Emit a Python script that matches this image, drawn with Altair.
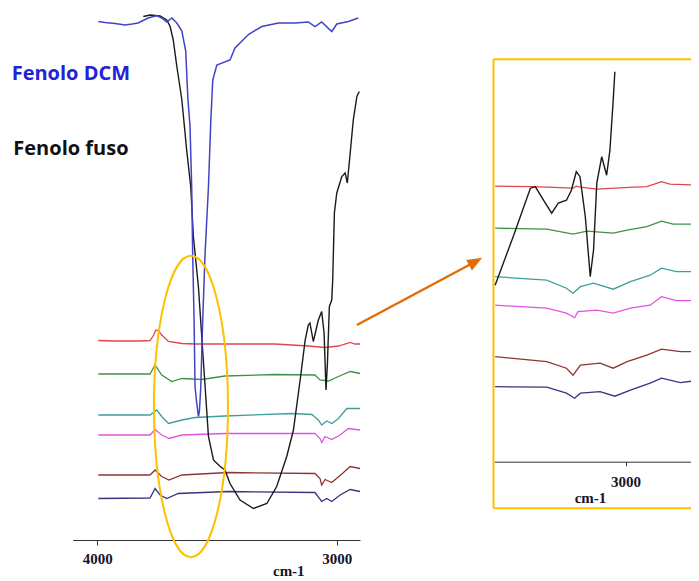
import altair as alt
import pandas as pd

# ---------------- main panel spectra (wavenumber cm-1, transmittance a.u.) ----------------
dcm_wn = [3996, 3968, 3926, 3884, 3855, 3830, 3788, 3752, 3731, 3710, 3689, 3668, 3647, 3631,
          3622, 3613, 3606, 3602, 3596, 3592, 3585, 3578, 3574, 3568, 3560, 3550, 3536, 3526,
          3518, 3501, 3446, 3425, 3369, 3313, 3244, 3174, 3119, 3091, 3063, 3021, 3000, 2952, 2910]
dcm_t = [103.7, 103.5, 103.3, 103.0, 103.2, 103.4, 104.4, 104.9, 104.4, 103.6, 104.4, 103.4, 101.8, 97.8,
         88.4, 82.7, 70.7, 57.4, 44.0, 30.6, 27.4, 24.7, 25.6, 30.6, 44.0, 57.4, 70.6, 84.0,
         92.0, 95.0, 96.0, 98.4, 101.1, 102.7, 103.4, 103.4, 103.6, 102.7, 103.6, 101.7, 103.2, 103.7, 104.4]

fuso_wn = [3808, 3780, 3738, 3710, 3696, 3683, 3668, 3647, 3627, 3610, 3599, 3578, 3564, 3550, 3536,
           3515, 3487, 3467, 3446, 3404, 3348, 3292, 3251, 3209, 3181, 3153, 3132, 3119, 3112, 3098,
           3077, 3063, 3053, 3045, 3039, 3031, 3021, 3017, 3010, 3000, 2979, 2965, 2956, 2944, 2931,
           2916, 2906]
fuso_t = [104.7, 105.0, 104.8, 104.0, 102.7, 100.0, 94.7, 88.0, 78.0, 70.7, 60.7, 50.7, 40.7, 30.7, 20.7,
          16.0, 14.7, 14.0, 11.3, 8.0, 6.3, 7.3, 10.7, 16.7, 22.0, 32.0, 40.0, 43.0, 43.4, 39.7,
          44.0, 45.7, 41.4, 30.0, 35.4, 46.7, 48.0, 52.0, 65.4, 69.4, 72.7, 73.4, 71.4, 77.4, 84.0,
          88.7, 89.7]

red_wn = [3996, 3926, 3822, 3780, 3767, 3756, 3744, 3731, 3703, 3647, 3592, 3362, 3258, 3119, 3049, 2993, 2944, 2924, 2903]
red_t = [39.9, 39.8, 39.8, 39.9, 40.8, 42.0, 41.8, 41.0, 39.7, 39.3, 39.2, 39.2, 39.2, 38.8, 38.5, 38.8, 39.5, 39.2, 39.2]

green_wn = [3996, 3780, 3759, 3731, 3689, 3647, 3564, 3467, 3258, 3091, 3070, 3035, 2993, 2944, 2903]
green_t = [33.2, 33.2, 35.0, 33.0, 31.7, 32.3, 32.1, 32.8, 33.1, 33.0, 32.0, 31.8, 32.7, 33.7, 33.3]

teal_wn = [3996, 3780, 3752, 3731, 3703, 3647, 3592, 3467, 3188, 3104, 3077, 3063, 3042, 3021, 2993, 2958, 2903]
teal_t = [25.0, 25.0, 26.0, 24.7, 23.3, 24.0, 24.5, 24.8, 25.3, 25.1, 24.0, 23.0, 23.8, 23.3, 24.3, 26.3, 26.3]

magenta_wn = [3996, 3780, 3759, 3731, 3701, 3647, 3467, 3091, 3070, 3063, 3049, 3021, 2986, 2952, 2903]
magenta_t = [21.0, 21.0, 22.1, 21.0, 20.3, 21.0, 21.3, 21.3, 20.3, 19.5, 20.7, 20.1, 21.0, 22.3, 22.0]

brown_wn = [3996, 3780, 3759, 3731, 3701, 3647, 3453, 3091, 3070, 3063, 3049, 3021, 2979, 2944, 2903]
brown_t = [13.0, 13.0, 14.0, 12.7, 12.0, 13.0, 13.5, 13.3, 12.3, 11.0, 12.1, 11.5, 13.2, 14.7, 14.3]

navy_wn = [3996, 3780, 3759, 3738, 3710, 3662, 3453, 3091, 3063, 3042, 3021, 2986, 2944, 2903]
navy_t = [8.3, 8.4, 10.3, 9.0, 8.3, 9.3, 9.7, 9.5, 7.7, 8.3, 7.7, 9.0, 10.1, 9.7]

# ---------------- inset (zoom 3160-2910 cm-1) ----------------
i_fuso_wn = [3159, 3137, 3116, 3110, 3100, 3090, 3082, 3072, 3066, 3060, 3055.5, 3049, 3043, 3039,
             3035, 3029, 3023, 3019, 3015, 3013]
i_fuso_t = [35.3, 45.0, 54.7, 55.0, 52.3, 49.7, 51.7, 52.3, 54.3, 58.0, 57.0, 49.0, 37.0, 42.3,
            55.7, 61.0, 57.3, 62.3, 72.3, 78.0]

i_red_wn = [3159, 3112, 3064, 3060, 3055, 3035, 2990, 2974, 2956, 2946, 2911]
i_red_t = [55.1, 55.0, 54.7, 55.1, 54.9, 54.5, 54.9, 55.0, 56.0, 55.5, 55.3]

i_green_wn = [3159, 3096, 3064, 3047, 3015, 2998, 2974, 2956, 2942, 2911]
i_green_t = [46.7, 46.5, 45.5, 46.1, 45.7, 46.3, 47.0, 48.1, 47.5, 47.5]

i_teal_wn = [3159, 3096, 3072, 3064, 3055, 3039, 3015, 2994, 2970, 2956, 2938, 2911]
i_teal_t = [37.0, 36.3, 34.7, 33.7, 35.0, 35.7, 34.5, 36.0, 37.3, 38.7, 38.0, 38.0]

i_magenta_wn = [3159, 3096, 3072, 3062, 3058, 3035, 3015, 2994, 2970, 2956, 2938, 2911]
i_magenta_t = [31.3, 30.7, 29.7, 28.8, 30.0, 30.3, 29.7, 30.7, 31.3, 33.0, 32.2, 32.2]

i_brown_wn = [3159, 3096, 3072, 3064, 3055, 3031, 3015, 2998, 2974, 2956, 2933, 2911]
i_brown_t = [21.0, 20.0, 18.7, 17.3, 19.3, 19.7, 18.7, 20.0, 21.3, 22.5, 22.0, 22.0]

i_navy_wn = [3159, 3096, 3072, 3062, 3055, 3031, 3013, 2994, 2970, 2956, 2933, 2911]
i_navy_t = [15.0, 14.9, 13.7, 12.7, 13.7, 14.0, 13.1, 14.3, 15.7, 16.7, 15.8, 16.3]

series_names = ["red", "green", "teal", "magenta", "brown", "navy"]
series_colors = ["#e0454f", "#3f9145", "#3e9f98", "#e055e0", "#8e3535", "#35357f"]

# ---------------- annotations ----------------
label_texts = ["Fenolo DCM", "Fenolo fuso"]
label_colors = ["#2323d6", "#111111"]
label_wn = [4358, 4351]
label_t = [92.0, 77.1]

ellipse_wn = [3609]
ellipse_t = [26.7]

arrow_from_wn, arrow_from_t = 2916, 43.0
arrow_to_wn, arrow_to_t = 2420, 55.7

# inset frame: left edge, top edge, bottom edge (right edge lies outside the picture)
box_left_wn = 3161
box_right_wn = 2880
box_top_t = 80.5
box_bottom_t = -9.3

main_ticks = [4000, 3000]
inset_ticks = [3000]

# ---------------- scales ----------------
MAIN_X = alt.Scale(domain=[4103, 2903], range=[64.7, 352], zero=False, nice=False)
MAIN_Y = alt.Scale(domain=[0, 106], range=[532, 2], zero=False, nice=False)
INS_X = alt.Scale(domain=[3160, 2910], range=[486.3, 691.3], zero=False, nice=False)
INS_Y = alt.Scale(domain=[0, 81], range=[453.7, 48.7], zero=False, nice=False)

SERIF = "Liberation Serif"

main_axis = alt.Axis(values=main_ticks, format="d", orient="bottom", grid=False,
                     domainColor="#333333", domainWidth=1, tickColor="#333333", tickSize=5,
                     labelFont=SERIF, labelFontWeight="bold", labelFontSize=15, labelColor="#141428",
                     labelBaseline="alphabetic", labelPadding=18, labelFlush=False,
                     title="cm-1", titleFont=SERIF, titleFontWeight="bold", titleFontSize=15,
                     titleColor="#141428", titleX=280.3, titleY=35, titleBaseline="alphabetic",
                     titleAlign="center")
ins_axis = alt.Axis(values=inset_ticks, format="d", orient="bottom", grid=False, offset=-78.3,
                    domainColor="#333333", domainWidth=1, tickColor="#333333", tickSize=4,
                    labelFont=SERIF, labelFontWeight="bold", labelFontSize=15, labelColor="#141428",
                    labelBaseline="alphabetic", labelPadding=21, labelFlush=False,
                    title="cm-1", titleFont=SERIF, titleFontWeight="bold", titleFontSize=15,
                    titleColor="#141428", titleX=582, titleY=41, titleBaseline="alphabetic",
                    titleAlign="center")


def long_df(pairs):
    rows = []
    for name, wn, t in pairs:
        for a, b in zip(wn, t):
            rows.append({"s": name, "wn": a, "t": b})
    return pd.DataFrame(rows)


main_col = long_df(list(zip(series_names,
                            [red_wn, green_wn, teal_wn, magenta_wn, brown_wn, navy_wn],
                            [red_t, green_t, teal_t, magenta_t, brown_t, navy_t])))
ins_col = long_df(list(zip(series_names,
                           [i_red_wn, i_green_wn, i_teal_wn, i_magenta_wn, i_brown_wn, i_navy_wn],
                           [i_red_t, i_green_t, i_teal_t, i_magenta_t, i_brown_t, i_navy_t])))

color_enc = alt.Color("s:N", scale=alt.Scale(domain=series_names, range=series_colors), legend=None)

l_main_col = alt.Chart(main_col).mark_line(strokeWidth=1.3).encode(
    x=alt.X("wn:Q", scale=MAIN_X, axis=main_axis),
    y=alt.Y("t:Q", scale=MAIN_Y, axis=None),
    color=color_enc, detail="s:N")

l_fuso = alt.Chart(pd.DataFrame({"wn": fuso_wn, "t": fuso_t})).mark_line(
    strokeWidth=1.4, color="#1a1a1a").encode(
    x=alt.X("wn:Q", scale=MAIN_X, axis=None), y=alt.Y("t:Q", scale=MAIN_Y, axis=None))

l_dcm = alt.Chart(pd.DataFrame({"wn": dcm_wn, "t": dcm_t})).mark_line(
    strokeWidth=1.5, color="#4343c8").encode(
    x=alt.X("wn:Q", scale=MAIN_X, axis=None), y=alt.Y("t:Q", scale=MAIN_Y, axis=None))

frame_df = pd.DataFrame({
    "x": [box_left_wn, box_left_wn, box_left_wn],
    "x2": [box_left_wn, box_right_wn, box_right_wn],
    "y": [box_top_t, box_top_t, box_bottom_t],
    "y2": [box_bottom_t, box_top_t, box_bottom_t],
})
l_box = alt.Chart(frame_df).mark_rule(stroke="#ffc000", strokeWidth=2).encode(
    x=alt.X("x:Q", scale=INS_X, axis=None), x2="x2:Q",
    y=alt.Y("y:Q", scale=INS_Y, axis=None), y2="y2:Q")

l_ins_col = alt.Chart(ins_col).mark_line(strokeWidth=1.3).encode(
    x=alt.X("wn:Q", scale=INS_X, axis=None),
    y=alt.Y("t:Q", scale=INS_Y, axis=None),
    color=color_enc, detail="s:N")

l_ins_fuso = alt.Chart(pd.DataFrame({"wn": i_fuso_wn, "t": i_fuso_t})).mark_line(
    strokeWidth=1.4, color="#1a1a1a").encode(
    x=alt.X("wn:Q", scale=INS_X, axis=ins_axis), y=alt.Y("t:Q", scale=INS_Y, axis=None))

ELLIPSE_PATH = "M 0 -1 A 0.2455 1 0 1 1 0 1 A 0.2455 1 0 1 1 0 -1 Z"
l_ellipse = alt.Chart(pd.DataFrame({"wn": ellipse_wn, "t": ellipse_t})).mark_point(
    shape=ELLIPSE_PATH, size=90842, filled=False, stroke="#ffc000", strokeWidth=2, opacity=1).encode(
    x=alt.X("wn:Q", scale=MAIN_X, axis=None), y=alt.Y("t:Q", scale=MAIN_Y, axis=None))

arrow_df = pd.DataFrame({"wn": [arrow_from_wn], "t": [arrow_from_t],
                         "wn2": [arrow_to_wn], "t2": [arrow_to_t]})
l_arrow = alt.Chart(arrow_df).mark_rule(color="#e36c0a", strokeWidth=2.5).encode(
    x=alt.X("wn:Q", scale=MAIN_X, axis=None), y=alt.Y("t:Q", scale=MAIN_Y, axis=None),
    x2="wn2:Q", y2="t2:Q")
l_head = alt.Chart(arrow_df).mark_point(
    shape="M 0 -1 L 0.8 1 L -0.8 1 Z", size=225, angle=61, filled=True,
    color="#e36c0a", opacity=1).encode(
    x=alt.X("wn2:Q", scale=MAIN_X, axis=None), y=alt.Y("t2:Q", scale=MAIN_Y, axis=None))

lab_df = pd.DataFrame({"wn": label_wn, "t": label_t, "txt": label_texts, "c": label_colors})
l_labels = alt.Chart(lab_df).mark_text(
    align="left", baseline="alphabetic", font="Open Sans", fontSize=20, fontWeight="bold").encode(
    x=alt.X("wn:Q", scale=MAIN_X, axis=None), y=alt.Y("t:Q", scale=MAIN_Y, axis=None),
    text="txt:N", color=alt.Color("c:N", scale=None))

chart = alt.layer(
    l_main_col, l_fuso, l_dcm, l_box, l_ins_col, l_ins_fuso, l_ellipse, l_arrow, l_head, l_labels
).resolve_scale(x="independent", y="independent", color="independent").properties(
    width=683, height=532,
    padding={"left": 0, "top": 0, "right": 0, "bottom": 41},
    autosize=alt.AutoSizeParams(type="none"),
    background="white",
).configure_view(stroke=None)

chart.save("out.html", embed_options={"renderer": "svg", "actions": False})
